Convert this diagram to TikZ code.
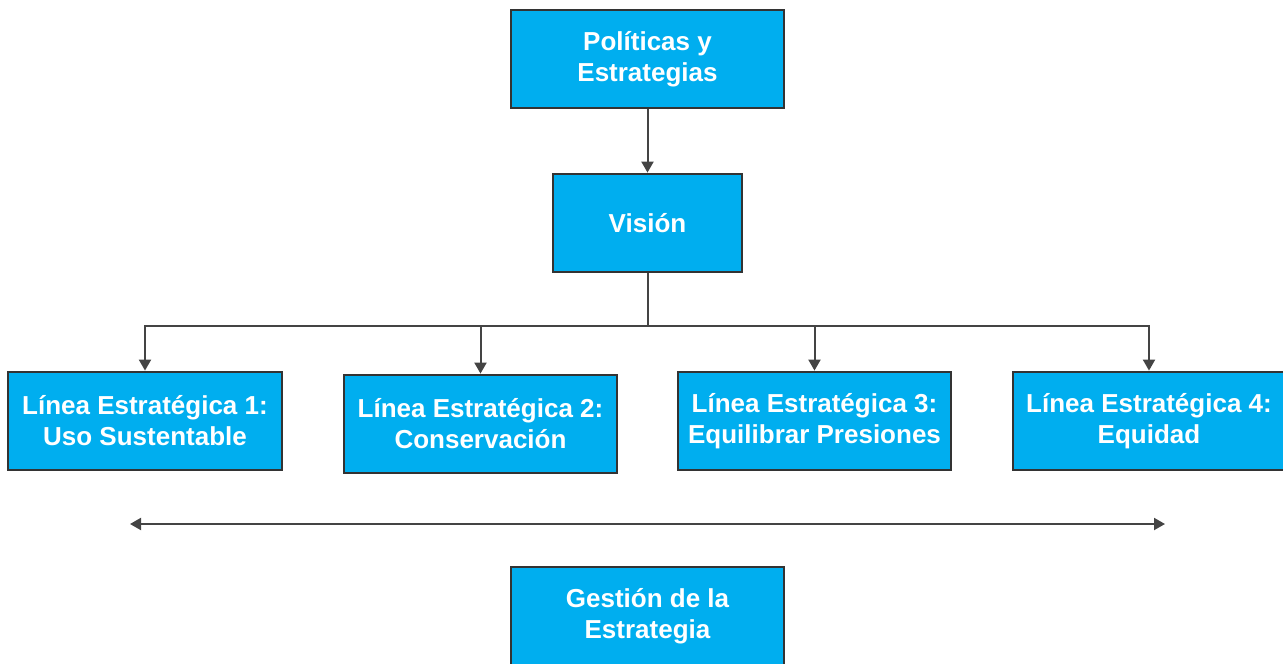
\documentclass[tikz,border=0pt]{standalone}
\usepackage{fontspec}
\setmainfont{Liberation Sans}
\usetikzlibrary{arrows.meta}
\definecolor{boxblue}{HTML}{00AEEF}
\definecolor{edgegray}{HTML}{333333}
\definecolor{linegray}{HTML}{444444}
\begin{document}
\begin{tikzpicture}[x=1pt,y=-1pt,
  blockbox/.style={draw=edgegray, line width=2.8pt, fill=boxblue, text=white,
    font=\bfseries\fontsize{26}{31}\selectfont, align=center,
    inner sep=0pt, minimum height=98pt},
  conn/.style={draw=linegray, line width=2pt, -{Triangle[length=11pt,width=12pt]}},
  dconn/.style={draw=linegray, line width=2pt, {Triangle[length=11pt,width=12pt]}-{Triangle[length=11pt,width=12pt]}}
]
\useasboundingbox (0,0) rectangle (1283,664);
\node[blockbox, minimum width=273pt] (pol) at (647.5,59) {Políticas y\\Estrategias};
\node[blockbox, minimum width=189pt] (vis) at (647.5,223) {Visión};
\node[blockbox, minimum width=274pt] (l1) at (145,421) {Línea Estratégica 1:\\Uso Sustentable};
\node[blockbox, minimum width=273pt] (l2) at (480.5,424) {Línea Estratégica 2:\\Conservación};
\node[blockbox, minimum width=273pt] (l3) at (814.5,421) {Línea Estratégica 3:\\Equilibrar Presiones};
\node[blockbox, minimum width=272pt] (l4) at (1149,421) {Línea Estratégica 4:\\Equidad};
\node[blockbox, minimum width=273pt] (ges) at (647.5,616) {Gestión de la\\Estrategia};
\coordinate (bus) at (650,326);
\coordinate (la) at (130,524);
\coordinate (ra) at (1165,524);
\draw[conn] (pol.south) -- (vis.north);
\draw[draw=linegray, line width=2pt] (vis.south) -- (vis.south |- bus);
\foreach \n in {l1,l2,l3,l4}{
  \draw[conn] (vis.south |- bus) -| (\n.north);
}
\draw[dconn] (la) -- (ra);
\end{tikzpicture}
\end{document}
